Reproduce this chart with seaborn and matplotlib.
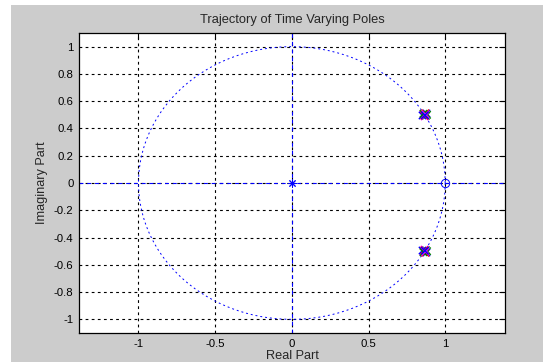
import numpy as np
import pandas as pd
import matplotlib
matplotlib.use("Agg")
import matplotlib.pyplot as plt
from matplotlib.patches import Rectangle
import seaborn as sns

# Pole locations (real, imaginary) at successive time steps, grouped by trace colour
pole_step = ["s1", "s1", "s2", "s2", "s3", "s3", "s4", "s4",
             "s1", "s1", "s2", "s2", "s3", "s3", "s4", "s4",
             "s1", "s1", "s2", "s2", "s3", "s3", "s4", "s4"]
pole_real = [0.860, 0.860, 0.874, 0.874, 0.856, 0.856, 0.878, 0.878,
             0.870, 0.870, 0.882, 0.882, 0.866, 0.866, 0.852, 0.852,
             0.864, 0.864, 0.858, 0.858, 0.872, 0.872, 0.868, 0.868]
pole_imag = [0.505, -0.505, 0.492, -0.492, 0.498, -0.498, 0.510, -0.510,
             0.512, -0.512, 0.500, -0.500, 0.488, -0.488, 0.495, -0.495,
             0.494, -0.494, 0.508, -0.508, 0.503, -0.503, 0.497, -0.497]
step_colors = {"s1": "red", "s2": "green", "s3": "magenta", "s4": "blue"}

# Zeros of the system
zero_real = [0.0, 1.0]
zero_imag = [0.0, 0.0]
zero_marks = [(8, 2, 0), "o"]

xticks = [-1, -0.5, 0, 0.5, 1]
yticks = [-1, -0.8, -0.6, -0.4, -0.2, 0, 0.2, 0.4, 0.6, 0.8, 1]

sns.set_style("white")
plt.rcParams["font.family"] = ["Liberation Sans", "DejaVu Sans"]

W, H = 543, 362
fig = plt.figure(figsize=(W / 100, H / 100), dpi=100, facecolor="white")
fig.patches.append(Rectangle((11 / W, 0), 1 - 11 / W, (H - 5) / H,
                             transform=fig.transFigure, facecolor="#cccccc",
                             edgecolor="none", zorder=-10))
ax = fig.add_axes([79 / W, (H - 333) / H, (505 - 79) / W, (333 - 33) / H])
ax.set_facecolor("white")

ax.set_xlim(-1.388, 1.39)
ax.set_ylim(-1.1, 1.1)
ax.set_xticks(xticks)
ax.set_xticklabels(["-1", "-0.5", "0", "0.5", "1"])
ax.set_yticks(yticks)
ax.set_yticklabels(["-1", "-0.8", "-0.6", "-0.4", "-0.2", "0", "0.2", "0.4", "0.6", "0.8", "1"])
ax.grid(True, color="black", linestyle=(0, (2.5, 3)), linewidth=0.8)
ax.set_axisbelow(True)
ax.tick_params(direction="in", length=4, width=0.8, top=True, right=True,
               labelsize=8.2, colors="black", pad=4)
for sp in ax.spines.values():
    sp.set_color("black")
    sp.set_linewidth(0.9)

# Unit circle and the real / imaginary axes
theta = np.linspace(0, 2 * np.pi, 400)
ax.plot(np.cos(theta), np.sin(theta), color="blue", linestyle=(0, (2, 3)), linewidth=0.7)
ax.axhline(0, color="blue", linestyle=(0, (3.5, 3.5)), linewidth=0.8)
ax.axvline(0, color="blue", linestyle=(0, (3.5, 3.5)), linewidth=0.8)

# Zeros
for xr, yi, m in zip(zero_real, zero_imag, zero_marks):
    ax.plot([xr], [yi], marker=m, markersize=6, markerfacecolor="none",
            markeredgecolor="blue", markeredgewidth=0.7, linestyle="none")

# Poles over time
poles = pd.DataFrame({"step": pole_step, "re": pole_real, "im": pole_imag})
sns.scatterplot(data=poles, x="re", y="im", hue="step", palette=step_colors,
                marker="x", s=28, linewidth=1.0, legend=False, ax=ax, zorder=5)

ax.set_title("Trajectory of Time Varying Poles", fontsize=9.3, pad=7)
ax.set_xlabel("Real Part", fontsize=9.2, labelpad=1)
ax.set_ylabel("Imaginary Part", fontsize=9.2, labelpad=4)

fig.savefig("out.png", dpi=100, facecolor=fig.get_facecolor())
